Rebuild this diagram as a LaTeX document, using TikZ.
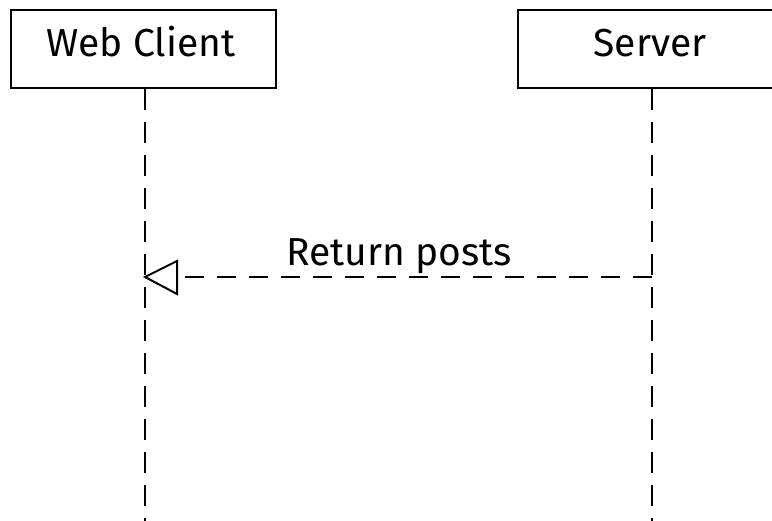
\documentclass[tikz,border=0pt]{standalone}
\usepackage{fontspec}
\setmainfont{Fira Sans}
\usetikzlibrary{arrows.meta}
\begin{document}
\begin{tikzpicture}[x=1pt,y=-1pt,
  actor/.style={draw,line width=2.2pt,minimum width=265pt,minimum height=78pt,
    inner sep=0pt},
  actorlabel/.style={font=\fontsize{39}{42}\selectfont,anchor=base},
  lifeline/.style={line width=2pt,dash pattern=on 21pt off 12pt},
  reply/.style={line width=2pt,dash pattern=on 19pt off 13pt},
  msg/.style={font=\fontsize{39}{42}\selectfont,anchor=base}]
\useasboundingbox (0,0) rectangle (772,521);
\node[actor] (client) at (143.5,49) {};
\node[actor] (server) at (650.5,49) {};
\node[actorlabel] (clientname) at (141,57) {Web Client};
\node[actorlabel] (servername) at (650,57) {Server};
\coordinate (cend) at (145,521);
\coordinate (send) at (652,521);
\draw[lifeline] (client.south -| cend) -- (cend);
\draw[lifeline] (server.south -| send) -- (send);
\coordinate (tip) at (145,277);
\coordinate (from) at (652,277);
\coordinate (back) at (177,277);
\draw[reply] (from) -- (back);
\draw[line width=2pt,line join=miter] (tip) -- (177,261) -- (177,294) -- cycle;
\node[msg] (label) at (399,266) {Return posts};
\end{tikzpicture}
\end{document}
